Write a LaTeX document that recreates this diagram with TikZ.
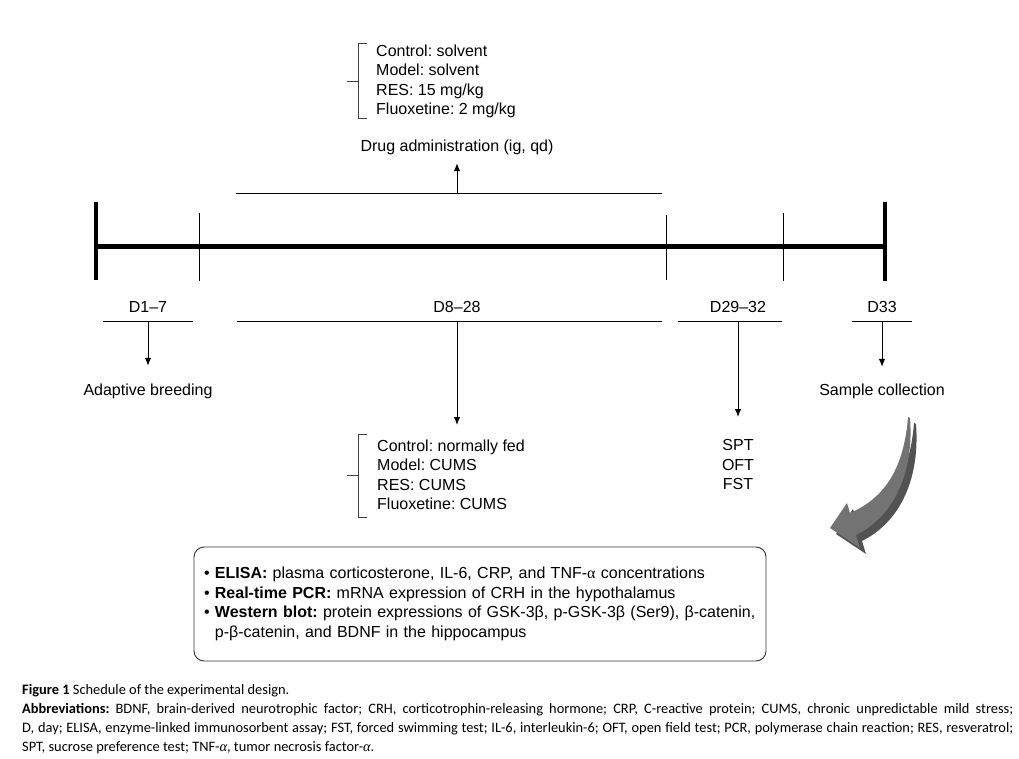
\documentclass[tikz,border=0pt]{standalone}
\usepackage{fontspec}
\setmainfont{Liberation Sans}
\newfontfamily\capfont{Carlito}
\newfontfamily\grk{Liberation Serif}
\usetikzlibrary{arrows.meta}
\frenchspacing
\begin{document}
\begin{tikzpicture}[x=1pt,y=-1pt,
  every node/.append style={execute at begin node=\frenchspacing},
  lbl/.style={inner sep=0pt, font=\fontsize{16}{19.5}\selectfont, text height=12pt, text depth=3.5pt},
  lst/.style={inner sep=0pt, font=\fontsize{16}{19.5}\selectfont, align=left},
  bar/.style={line width=1pt},
  tick/.style={line width=0.9pt},
  endtick/.style={line width=4.5pt},
  brace/.style={line width=0.8pt, draw=black!75},
  arr/.style={line width=1pt, -{Latex[length=8pt,width=6.5pt]}},
  garrow/.style={fill=black!55, draw=none},
  gshadow/.style={fill=black!68, draw=none}
]
\useasboundingbox (0,0) rectangle (1019,759);
\fill[white] (0,0) rectangle (1019,759);

% timeline
\coordinate (tl) at (96,247);
\coordinate (tr) at (885,247);
\draw[line width=5pt] (tl) -- (tr);
\draw[endtick] (96,202) -- (96,280);
\draw[endtick] (885,202) -- (885,281);
\draw[tick] (199,213) -- (199,281);
\draw[tick] (666,215) -- (666,280);
\draw[tick] (783,213) -- (783,281);

% drug administration
\coordinate (topbar) at (457,194);
\draw[bar] (236,194) -- (662,194);
\node[lbl, anchor=base] (drug) at (457,151.5) {Drug administration (ig, qd)};
\draw[arr, shorten >=8pt] (topbar) -- (drug.south);

\node[lst, anchor=north west] (drugs) at (376,44.5) {Control: solvent\\Model: solvent\\RES: 15 mg/kg\\Fluoxetine: 2 mg/kg};
\draw[brace] (367,43) -- (358,43) -- (358,118) -- (367,118);
\draw[brace] (358,81) -- (347,81);

% day labels
\node[lbl, anchor=base] (d17) at (148,312.5) {D1–7};
\node[lbl, anchor=base] (d828) at (457,312.5) {D8–28};
\node[lbl, anchor=base] (d2932) at (738,312.5) {D29–32};
\node[lbl, anchor=base] (d33) at (882,312.5) {D33};

\coordinate (b17) at (148,321);
\coordinate (b828) at (457,321);
\coordinate (b2932) at (738,321);
\coordinate (b33) at (882,321);
\draw[bar] (103,321) -- (193,321);
\draw[bar] (237,321) -- (662,321);
\draw[bar] (678,321) -- (782,321);
\draw[bar] (852,321) -- (912,321);

\node[lbl, anchor=base] (adapt) at (148,395.5) {Adaptive breeding};
\node[lbl, anchor=base] (sample) at (882,395.5) {Sample collection};
\draw[arr, shorten >=17.5pt] (b17) -- (adapt.north);
\draw[arr, shorten >=16.5pt] (b33) -- (sample.north);

\node[lst, anchor=north west] (cums) at (377,439.5) {Control: normally fed\\Model: CUMS\\RES: CUMS\\Fluoxetine: CUMS};
\draw[brace] (367,434) -- (358,434) -- (358,517) -- (367,517);
\draw[brace] (358,475) -- (347,475);
\draw[arr, shorten >=14.5pt] (b828) -- (b828 |- cums.north);

\node[lst, align=center, anchor=north] (tests) at (738,439.5) {SPT\\OFT\\FST};
\draw[arr, shorten >=22.5pt] (b2932) -- (tests.north);

% curved gray arrow
\begin{scope}[shift={(6,6)}]
\fill[gshadow] (908,417) .. controls (904,468) and (885,498) .. (850,513) -- (847,503) -- (830,528) -- (860,548) -- (856,535) .. controls (896,515) and (914,470) .. (910,418) -- cycle;
\end{scope}
\fill[garrow] (908,417) .. controls (904,468) and (885,498) .. (850,513) -- (847,503) -- (830,528) -- (860,548) -- (856,535) .. controls (896,515) and (914,470) .. (910,418) -- cycle;

% result box
\node[draw=black!80, line width=0.9pt, rounded corners=10pt, inner xsep=10pt, inner ysep=0pt,
      text width=552pt, minimum height=114pt, align=left,
      font=\fontsize{16}{19.5}\selectfont] (box) at (480,604)
 {\mbox{•\ \textbf{ELISA:} plasma corticosterone, IL-6, CRP, and TNF-{\grk α} concentrations}\\
  \mbox{•\ \textbf{Real-time PCR:} mRNA expression of CRH in the hypothalamus}\\
  \mbox{•\ \textbf{Western blot:} protein expressions of GSK-3β, p-GSK-3β (Ser9), β-catenin,}\\
  \mbox{\phantom{•\ }p-β-catenin, and BDNF in the hippocampus}};

% caption
\node[anchor=base west, inner sep=0pt, text width=991pt, align=justify,
      font=\capfont\fontsize{14.4}{19}\selectfont] (cap) at (22,694)
 {\textbf{Figure 1} Schedule of the experimental design.\\
  \textbf{Abbreviations:} BDNF, brain-derived neurotrophic factor; CRH, corticotrophin-releasing hormone; CRP, C-reactive protein; CUMS, chronic unpredictable mild stress;\linebreak
  D, day; ELISA, enzyme-linked immunosorbent assay; FST, forced swimming test; IL-6, interleukin-6; OFT, open field test; PCR, polymerase chain reaction; RES, resveratrol;\linebreak
  SPT, sucrose preference test; TNF-{\grk\itshape α}, tumor necrosis factor-{\grk\itshape α}.};
\end{tikzpicture}
\end{document}
